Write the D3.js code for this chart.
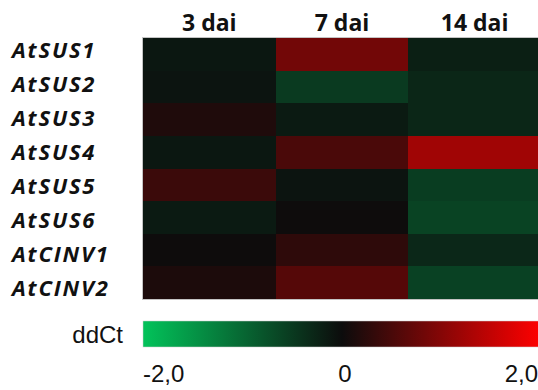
<!DOCTYPE html>
<html>
<head>
<meta charset="utf-8">
<script src="https://cdn.jsdelivr.net/npm/d3@7"></script>
<style>
  body { margin: 0; background: #fff; }
  svg { display: block; }
</style>
</head>
<body>
<div id="chart"></div>
<script>
var genes = ["AtSUS1", "AtSUS2", "AtSUS3", "AtSUS4", "AtSUS5", "AtSUS6", "AtCINV1", "AtCINV2"];
var times = ["3 dai", "7 dai", "14 dai"];
// ddCt per gene, one value per time point (3, 7, 14 dai)
var dai3  = [-0.12, -0.09,  0.16, -0.12,  0.39, -0.15,  0.02,  0.13];
var dai7  = [ 0.84, -0.50, -0.15,  0.51, -0.09,  0.02,  0.28,  0.60];
var dai14 = [-0.21, -0.28, -0.28,  1.22, -0.54, -0.60, -0.30, -0.58];
var legendTicks = [-2, 0, 2];
var legendLabels = ["-2,0", "0", "2,0"];

var width = 538, height = 390;

var cells = [];
genes.forEach(function (g, i) {
  cells.push({ gene: g, time: times[0], value: dai3[i] });
  cells.push({ gene: g, time: times[1], value: dai7[i] });
  cells.push({ gene: g, time: times[2], value: dai14[i] });
});

var svg = d3.select("#chart").append("svg")
  .attr("width", width)
  .attr("height", height);

var x = d3.scaleBand().domain(times).range([143, 541]),
  y = d3.scaleBand().domain(genes).range([38, 299]),
  labelY = d3.scalePoint().domain(genes).range([50, 288]),
  color = d3.scaleLinear()
    .domain([-2, 0, 2])
    .range(["#02c35a", "#0c0c0c", "#ff0000"]);

// heatmap cells
svg.append("g").selectAll("rect")
  .data(cells)
  .enter().append("rect")
  .attr("x", function (d) { return Math.round(x(d.time)); })
  .attr("y", function (d) { return Math.round(y(d.gene)); })
  .attr("width", function (d) { return Math.round(x(d.time) + x.bandwidth()) - Math.round(x(d.time)); })
  .attr("height", function (d) { return Math.round(y(d.gene) + y.bandwidth()) - Math.round(y(d.gene)); })
  .attr("shape-rendering", "crispEdges")
  .attr("fill", function (d) { return color(d.value); });

svg.append("rect")
  .attr("x", x.range()[0] - 0.5)
  .attr("y", y.range()[0] - 0.5)
  .attr("width", x.range()[1] - x.range()[0])
  .attr("height", y.range()[1] - y.range()[0] + 1)
  .attr("fill", "none")
  .attr("stroke", "#c4c4c4")
  .attr("stroke-width", 1);

// column headers
svg.append("g").selectAll("text")
  .data(times)
  .enter().append("text")
  .attr("x", function (d) { return x(d) + x.bandwidth() / 2; })
  .attr("y", 31)
  .attr("text-anchor", "middle")
  .style("font-family", "'Open Sans', sans-serif")
  .style("font-weight", "bold")
  .style("font-size", "23px")
  .attr("fill", "#111")
  .text(function (d) { return d; });

// gene labels
svg.append("g").selectAll("text")
  .data(genes)
  .enter().append("text")
  .attr("x", 12)
  .attr("y", function (d) { return labelY(d) + 7.8; })
  .style("font-family", "'Open Sans', sans-serif")
  .style("font-weight", "bold")
  .style("font-style", "italic")
  .style("font-size", "22px")
  .style("letter-spacing", "1.8px")
  .attr("fill", "#111")
  .text(function (d) { return d; });

// colour legend
var lx = d3.scaleLinear().domain([-2, 2]).range([143, 541]);

var grad = svg.append("defs").append("linearGradient")
  .attr("id", "ddct")
  .attr("gradientUnits", "userSpaceOnUse")
  .attr("x1", lx(-2)).attr("x2", lx(2))
  .attr("y1", 0).attr("y2", 0);

grad.selectAll("stop")
  .data(color.domain())
  .enter().append("stop")
  .attr("offset", function (d) { return (lx(d) - lx(-2)) / (lx(2) - lx(-2)); })
  .attr("stop-color", function (d) { return color(d); });

svg.append("rect")
  .attr("x", lx(-2))
  .attr("y", 321)
  .attr("width", lx(2) - lx(-2))
  .attr("height", 26)
  .attr("fill", "url(#ddct)")
  .attr("stroke", "#d0d0d0")
  .attr("stroke-width", 0.5);

svg.append("text")
  .attr("x", 123)
  .attr("y", 343)
  .attr("text-anchor", "end")
  .style("font-family", "'Liberation Sans', Arial, sans-serif")
  .style("font-size", "24px")
  .attr("fill", "#111")
  .text("ddCt");

svg.append("g").selectAll("text")
  .data(legendTicks)
  .enter().append("text")
  .attr("x", function (d, i) { return i === 2 ? width : lx(d) + (i === 0 ? 0 : 3); })
  .attr("y", 382)
  .attr("text-anchor", function (d, i) { return ["start", "middle", "end"][i]; })
  .style("font-family", "'Liberation Sans', Arial, sans-serif")
  .style("font-size", "24px")
  .attr("fill", "#111")
  .text(function (d, i) { return legendLabels[i]; });
</script>
</body>
</html>
